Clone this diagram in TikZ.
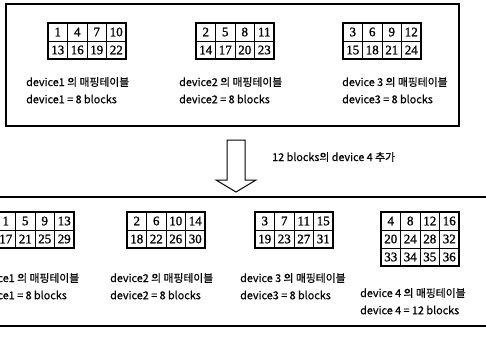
\documentclass[tikz,border=0pt]{standalone}
\usepackage{fontspec}
\setmainfont{Noto Sans CJK KR}[FakeBold=0.5]
\newfontfamily\numfont{Liberation Serif}[FakeBold=1.2]
\tikzset{
  frame/.style={line width=1.2pt},
  cell/.style={draw, line width=0.9pt, minimum width=19.5pt, minimum height=18pt, inner sep=0pt, font=\numfont\fontsize{13}{13}\selectfont},
  outer/.style={line width=1.4pt},
  lbl/.style={anchor=west, inner sep=0pt, font=\fontsize{10.8}{10.8}\selectfont},
  blockarrow/.style={line width=1pt, fill=white, line join=miter}
}
\newcommand\mtable[5]{% name, x, y, rows count, rows
  \foreach \row [count=\r from 0] in {#5} {%
    \foreach \v [count=\c from 0] in \row {%
      \node[cell] (#1-\r-\c) at ({#2+(\c+0.5)*19.5},{#3+(\r+0.5)*18}) {\v};
    }
  }
  \draw[outer] (#2,#3) rectangle ({#2+78},{#3+#4*18});
}
\begin{document}
\begin{tikzpicture}[x=1pt,y=-1pt]
\useasboundingbox (0,0) rectangle (486,339);
\clip (0,0) rectangle (486,339);
% top box
\draw[frame] (6,4) rectangle (459,126);
\mtable{ta}{48}{23}{2}{{1,4,7,10},{13,16,19,22}}
\mtable{tb}{196}{23}{2}{{2,5,8,11},{14,17,20,23}}
\mtable{tc}{343}{23}{2}{{3,6,9,12},{15,18,21,24}}
\node[lbl] (la1) at (26,82) {device1 의 매핑테이블};
\node[lbl] (la2) at (26,99) {device1 = 8 blocks};
\node[lbl] (lb1) at (179,82) {device2 의 매핑테이블};
\node[lbl] (lb2) at (179,99) {device2 = 8 blocks};
\node[lbl] (lc1) at (342,82) {device 3 의 매핑테이블};
\node[lbl] (lc2) at (342,99) {device3 = 8 blocks};
% arrow
\draw[blockarrow] (227,140) -- (245,140) -- (245,180) -- (256,180) -- (236,192) -- (216,180) -- (227,180) -- cycle;
\node[lbl] (add) at (272,157) {12 blocks의 device 4 추가};
% bottom box
\draw[frame] (-10,197) rectangle (496,326);
\mtable{ba}{-4}{212}{2}{{1,5,9,13},{17,21,25,29}}
\mtable{bb}{127}{212}{2}{{2,6,10,14},{18,22,26,30}}
\mtable{bc}{255}{212}{2}{{3,7,11,15},{19,23,27,31}}
\mtable{bd}{381}{212}{3}{{4,8,12,16},{20,24,28,32},{33,34,35,36}}
\node[lbl] (ma1) at (-24,278) {device1 의 매핑테이블};
\node[lbl] (ma2) at (-24,295) {device1 = 8 blocks};
\node[lbl] (mb1) at (110,278) {device2 의 매핑테이블};
\node[lbl] (mb2) at (110,295) {device2 = 8 blocks};
\node[lbl] (mc1) at (240,278) {device 3 의 매핑테이블};
\node[lbl] (mc2) at (240,295) {device3 = 8 blocks};
\node[lbl] (md1) at (360,293) {device 4 의 매핑테이블};
\node[lbl] (md2) at (360,310) {device 4 = 12 blocks};
\end{tikzpicture}
\end{document}
